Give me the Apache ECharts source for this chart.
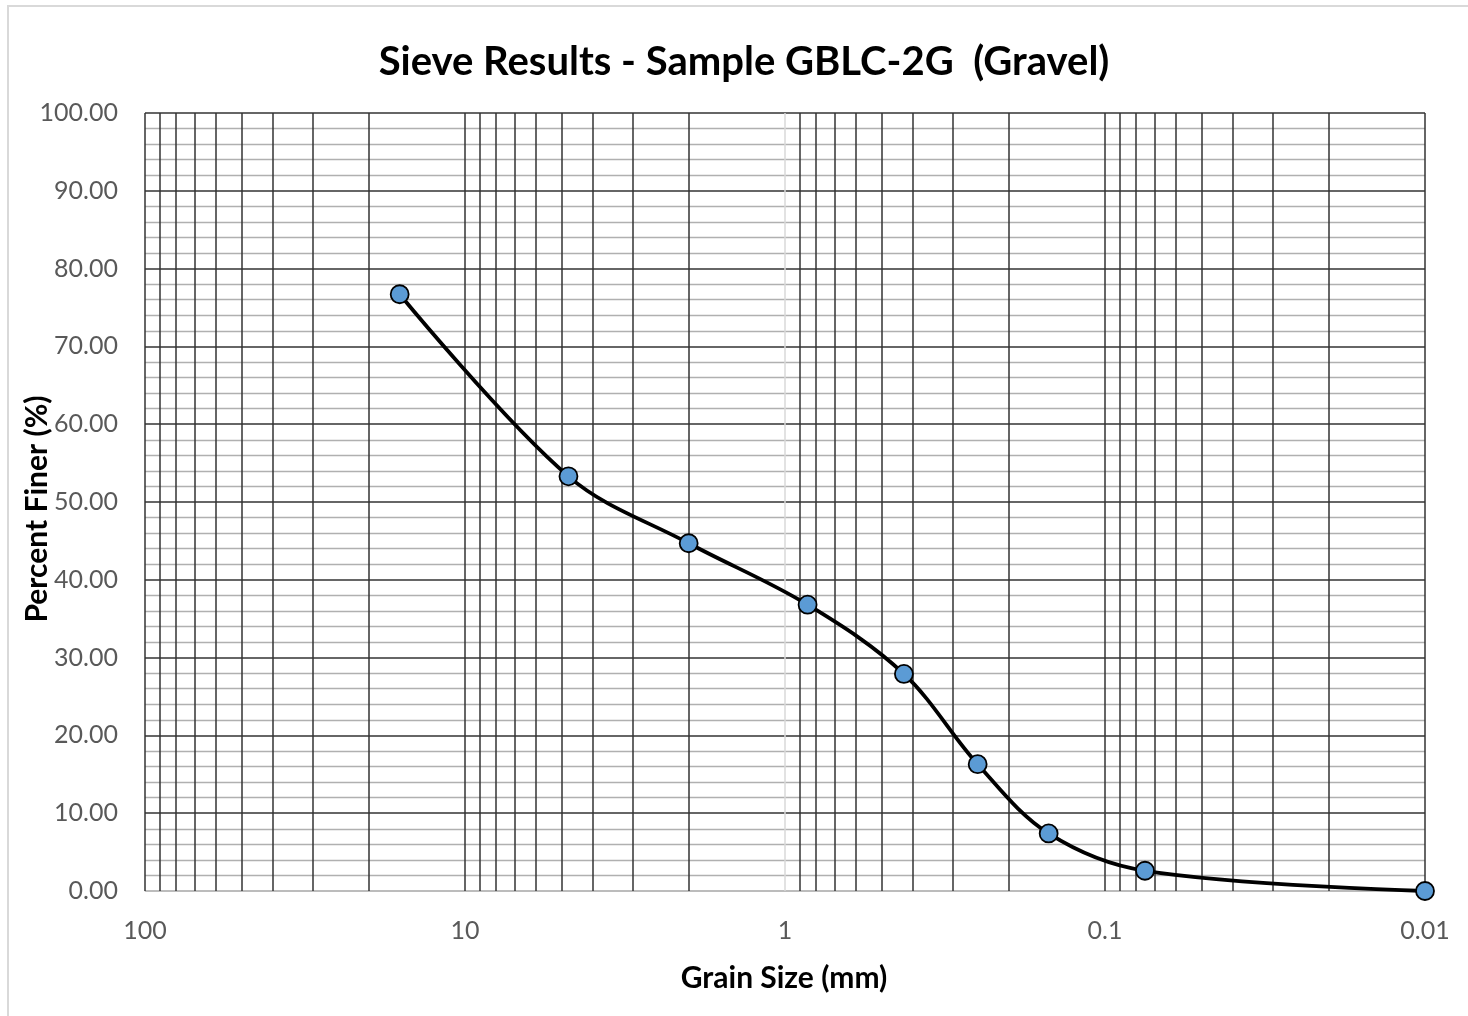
<!DOCTYPE html>
<html>
<head>
<meta charset="utf-8">
<script src="https://cdn.jsdelivr.net/npm/echarts@6/dist/echarts.min.js"></script>
<style>
html,body{margin:0;padding:0;background:#fff;}
#chart{width:1468px;height:1016px;}
</style>
</head>
<body>
<div id="chart"></div>
<script>
// Data
const grainSize = [16, 4.75, 2, 0.85, 0.425, 0.25, 0.15, 0.075, 0.01];
const percentFiner = [76.7, 53.3, 44.7, 36.8, 27.9, 16.3, 7.4, 2.6, 0];
// Log-grid line positions (mm)
const decadeLines = [100, 10, 0.1, 0.01];
const minorGridLines = [90,80,70,60,50,40,30,20, 9,8,7,6,5,4,3,2, 0.9,0.8,0.7,0.6,0.5,0.4,0.3,0.2, 0.09,0.08,0.07,0.06,0.05,0.04,0.03,0.02];
const axisCrossLine = [1];

const FONT = 'Lato, "Open Sans", "Noto Sans", sans-serif';
const chart = echarts.init(document.getElementById('chart'), null, {renderer: 'canvas'});

const gridLineData = decadeLines.concat(minorGridLines).map(v => ({xAxis: v}));
const crossData = axisCrossLine.map(v => ({xAxis: v}));

chart.setOption({
  backgroundColor: '#fff',
  animation: false,
  grid: {left: 145, right: 43, top: 113, bottom: 125, containLabel: false},
  graphic: [
    {type: 'rect', shape: {x: 8, y: 6, width: 1500, height: 1050}, style: {fill: 'none', stroke: '#d9d9d9', lineWidth: 2}, z: -10},
    {type: 'text', x: 744, y: 62, style: {text: 'Sieve Results - Sample GBLC-2G  (Gravel)', font: 'bold 40px ' + FONT, fill: '#000', textAlign: 'center', textVerticalAlign: 'middle'}},
    {type: 'text', x: 784, y: 978, style: {text: 'Grain Size (mm)', font: 'bold 30px ' + FONT, fill: '#000', textAlign: 'center', textVerticalAlign: 'middle'}},
    {type: 'text', x: 37, y: 509, rotation: Math.PI / 2, style: {text: 'Percent Finer (%)', font: 'bold 30px ' + FONT, fill: '#000', textAlign: 'center', textVerticalAlign: 'middle'}}
  ],
  xAxis: {
    type: 'log',
    logBase: 10,
    min: 0.01,
    max: 100,
    inverse: true,
    axisLine: {show: true, lineStyle: {color: '#d9d9d9', width: 1.5}},
    axisTick: {show: false},
    splitLine: {show: false},
    axisLabel: {
      color: '#595959', fontSize: 25, fontFamily: FONT, margin: 27,
      formatter: v => String(Number(Number(v).toPrecision(6)))
    }
  },
  yAxis: {
    type: 'value',
    min: 0,
    max: 100,
    interval: 10,
    axisLine: {show: false},
    axisTick: {show: false},
    axisLabel: {color: '#595959', fontSize: 25, fontFamily: FONT, margin: 27, formatter: v => v.toFixed(2)},
    splitLine: {show: true, lineStyle: {color: '#333333', width: 1.5}},
    minorTick: {show: false, splitNumber: 5},
    minorSplitLine: {show: true, lineStyle: {color: '#b0b0b0', width: 1.4}}
  },
  series: [
    {
      type: 'line',
      data: [],
      silent: true,
      markLine: {
        silent: true,
        symbol: 'none',
        label: {show: false},
        lineStyle: {color: '#333333', width: 1.5, type: 'solid'},
        data: gridLineData,
        z: 1
      }
    },
    {
      type: 'line',
      data: [],
      silent: true,
      markLine: {
        silent: true,
        symbol: 'none',
        label: {show: false},
        lineStyle: {color: '#d9d9d9', width: 1.5, type: 'solid'},
        data: crossData
      }
    },
    {
      type: 'line',
      name: 'Percent Finer',
      data: grainSize.map((g, i) => [g, percentFiner[i]]),
      smooth: 0.35,
      symbol: 'circle',
      symbolSize: 18,
      lineStyle: {color: '#000', width: 3.8},
      itemStyle: {color: '#5B9BD5', borderColor: '#000', borderWidth: 1.8},
      z: 5
    }
  ]
});
</script>
</body>
</html>
